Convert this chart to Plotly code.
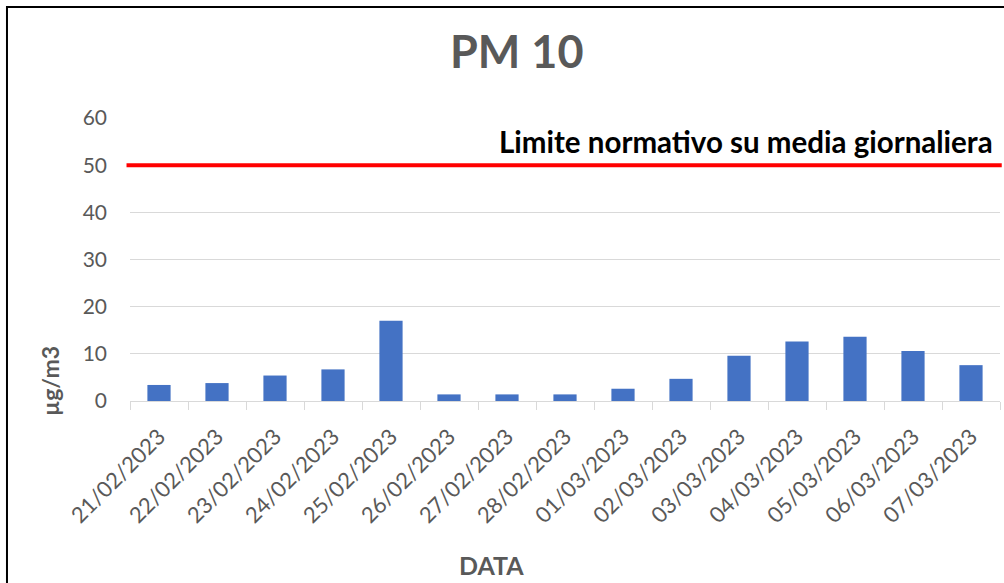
import plotly.graph_objects as go

dates = ["21/02/2023", "22/02/2023", "23/02/2023", "24/02/2023", "25/02/2023",
         "26/02/2023", "27/02/2023", "28/02/2023", "01/03/2023", "02/03/2023",
         "03/03/2023", "04/03/2023", "05/03/2023", "06/03/2023", "07/03/2023"]
pm10 = [3.4, 3.8, 5.4, 6.7, 17.0, 1.4, 1.4, 1.4, 2.6, 4.7, 9.6, 12.6, 13.6, 10.6, 7.6]
LIMIT = 50
y_ticks = [0, 10, 20, 30, 40, 50, 60]

FONT = "Lato"
GREY = "#595959"

fig = go.Figure()
fig.add_trace(go.Bar(x=dates, y=pm10, marker=dict(color="#4472C4", line=dict(width=0)),
                     showlegend=False))

fig.update_layout(
    width=1004, height=583,
    margin=dict(l=130, r=4, t=118, b=182),
    paper_bgcolor="white", plot_bgcolor="white",
    bargap=0.6,
    font=dict(family=FONT, color=GREY),
    xaxis=dict(type="category", tickangle=-45, tickfont=dict(size=22, color=GREY, family=FONT),
               showgrid=False, showline=True, linecolor="#d9d9d9", linewidth=1,
               ticks="outside", tickson="boundaries", ticklen=8, tickcolor="#d9d9d9",
               ticklabelstandoff=13),
    yaxis=dict(range=[0, 60], tickvals=y_ticks, tickfont=dict(size=21, color=GREY, family=FONT),
               showgrid=True, gridcolor="#d9d9d9", gridwidth=1, zeroline=False,
               showline=False, ticks="", ticklabelstandoff=22),
)

# limit line
fig.add_shape(type="line", xref="paper", yref="y", x0=-0.004, x1=1.002, y0=LIMIT, y1=LIMIT,
              line=dict(color="#ff0000", width=4), layer="above")

fig.add_annotation(text="<b>Limite normativo su media giornaliera</b>", xref="paper", yref="y",
                   x=0.994, y=LIMIT, xanchor="right", yanchor="bottom", yshift=4,
                   showarrow=False, font=dict(size=29.5, color="black", family=FONT))

# title
fig.add_annotation(text="<b>PM 10</b>", xref="paper", yref="paper", x=0.4448, y=1.237,
                   xanchor="center", yanchor="middle", showarrow=False,
                   font=dict(size=45, color=GREY, family=FONT))

# axis titles
fig.add_annotation(text="<b>DATA</b>", xref="paper", yref="paper", x=0.416, y=-0.5795,
                   xanchor="center", yanchor="middle", showarrow=False,
                   font=dict(size=25, color=GREY, family=FONT))
fig.add_annotation(text="<b>µg/m3</b>", xref="paper", yref="paper", x=-0.092, y=0.0707,
                   xanchor="center", yanchor="middle", textangle=-90, showarrow=False,
                   font=dict(size=23, color=GREY, family=FONT))

# outer border (top & left visible)
fig.add_shape(type="rect", xref="paper", yref="paper", x0=-0.1414, x1=1.03, y0=-0.75, y1=1.392,
              line=dict(color="black", width=2), layer="above")

fig.write_html("out.html", config={"displayModeBar": False},
               post_script="document.body.style.margin='0';")
